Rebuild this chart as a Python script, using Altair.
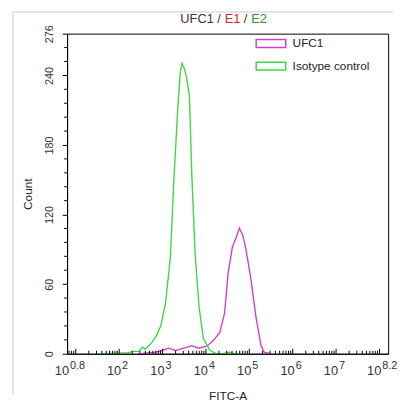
import altair as alt
import pandas as pd

# ---- data (x as log10 of FITC-A) ----
iso_lx = [1.60, 2.00, 2.20, 2.35, 2.45, 2.54, 2.60, 2.73, 2.85, 2.96, 3.07, 3.18,
          3.26, 3.35, 3.41, 3.45, 3.50, 3.55, 3.62, 3.675, 3.75, 3.84, 3.94, 4.09,
          4.24, 4.40, 4.50, 4.56, 4.62, 4.70]
iso_count = [0, 0.5, 1, 2, 2, 5.7, 4, 8.5, 15, 24, 44, 83,
             149, 211, 243, 250.5, 246, 239, 222, 154, 87, 41, 13, 3,
             0, 0, 1.2, 1.3, 0, 0]
ufc_lx = [2.50, 2.70, 2.84, 3.00, 3.145, 3.30, 3.49, 3.675, 3.83, 4.02, 4.17, 4.32,
          4.43, 4.51, 4.61, 4.70, 4.77, 4.85, 4.92, 5.04, 5.15, 5.27, 5.34, 5.49]
ufc_count = [0, 1, 1.4, 3, 4.8, 2.8, 4.8, 7, 4.8, 6.5, 11.3, 18.4,
             35, 69, 92, 100.5, 108.4, 102, 90.6, 63.7, 32.5, 7, 1.4, 0]

series_names = ["UFC1", "Isotype control"]
series_colors = ["#d040d0", "#40d840"]

y_ticks = [0, 60, 120, 180, 240, 276]
y_minor = [12, 24, 36, 48, 72, 84, 96, 108, 132, 144, 156, 168, 192, 204, 216, 228, 252, 264]
x_label_exp = ["0.8", "2", "3", "4", "5", "6", "7", "8.2"]
x_major_exp = [1, 2, 3, 4, 5, 6, 7, 8]
x_minor_mult = [2, 3, 4, 5, 6, 7, 8, 9]

FONT = "Liberation Sans"
XMIN, XMAX = 10 ** 0.8, 10 ** 8.2
H = 325

rows = []
for name, lxs, cnts in [("UFC1", ufc_lx, ufc_count), ("Isotype control", iso_lx, iso_count)]:
    for i, (a, c) in enumerate(zip(lxs, cnts)):
        rows.append({"series": name, "fitc": 10 ** a, "count": c, "i": i})
curves = pd.DataFrame(rows)

major = pd.DataFrame({"fitc": [10.0 ** e for e in x_major_exp]})
minor_vals = [m * 10.0 ** k for k in range(0, 9) for m in x_minor_mult]
minor = pd.DataFrame({"fitc": [v for v in minor_vals if XMIN <= v <= XMAX]})
ymin_df = pd.DataFrame({"count": y_minor})
labels = pd.DataFrame({"fitc": [10 ** float(e) for e in x_label_exp], "exp": x_label_exp,
                       "grp": ["first"] + ["mid"] * 6 + ["last"]})
one = pd.DataFrame({"a": [0]})

xscale = alt.Scale(type="log", domain=[XMIN, XMAX], nice=False)
yscale = alt.Scale(domain=[0, 276], nice=False)

lines = alt.Chart(curves).mark_line(strokeWidth=1.4, clip=True).encode(
    x=alt.X("fitc:Q", scale=xscale,
            axis=alt.Axis(ticks=False, labels=False, grid=False, domainColor="black",
                          title="FITC-A", titleFont=FONT, titleFontSize=12,
                          titleFontWeight="normal", titleColor="#222", titlePadding=37,
                          zindex=1)),
    y=alt.Y("count:Q", scale=yscale,
            axis=alt.Axis(values=y_ticks, tickSize=5, tickColor="black", domainColor="black",
                          grid=False, labelAngle=270, labelAlign="center",
                          labelBaseline="bottom", labelPadding=8, labelFont=FONT,
                          labelFontSize=11, labelColor="#333", title="Count",
                          titleFont=FONT, titleFontSize=12, titleFontWeight="normal",
                          titleColor="#222", titlePadding=9, zindex=1)),
    color=alt.Color("series:N", scale=alt.Scale(domain=series_names, range=series_colors),
                    legend=alt.Legend(orient="none", legendX=201, legendY=4, title=None,
                                      symbolType="M-3.75,-1L3.75,-1L3.75,1L-3.75,1Z",
                                      symbolSize=64, symbolStrokeWidth=1.5,
                                      symbolFillColor="transparent",
                                      labelFont=FONT, labelFontSize=12, labelColor="#222",
                                      labelOffset=16, rowPadding=9, padding=0)),
    detail="series:N",
    order="i:Q",
)

major_ticks = alt.Chart(major).mark_rule(color="black", strokeWidth=1).encode(
    x="fitc:Q", y=alt.value(H), y2=alt.value(H - 5))
minor_ticks = alt.Chart(minor).mark_rule(color="black", strokeWidth=1).encode(
    x="fitc:Q", y=alt.value(H), y2=alt.value(H - 3))
y_minor_ticks = alt.Chart(ymin_df).mark_rule(color="black", strokeWidth=1).encode(
    y="count:Q", x=alt.value(-3), x2=alt.value(0))

def lab_layers(grp, dx):
    base = alt.Chart(labels).transform_filter(alt.datum.grp == grp)
    ten = base.mark_text(text="10", align="right", baseline="middle", font=FONT,
                         fontSize=13, color="#333", dx=dx).encode(x="fitc:Q", y=alt.value(H + 18))
    ex = base.mark_text(align="left", baseline="middle", font=FONT, fontSize=11,
                        color="#333", dx=dx + 1).encode(x="fitc:Q", y=alt.value(H + 13), text="exp:N")
    return [ten, ex]

label_layers = lab_layers("first", 2) + lab_layers("mid", 2) + lab_layers("last", -7)

def title_part(txt, x, color):
    return alt.Chart(one).mark_text(text=txt, align="left", baseline="middle", font=FONT,
                                    fontSize=13, color=color).encode(
        x=alt.value(x), y=alt.value(-15))

title_layers = [title_part("UFC1 /", 115, "#4a2a4a"), title_part("E1", 160, "#d42a2a"),
                title_part("/", 179.5, "#4a2a4a"), title_part("E2", 187, "#2e962e")]

border_left = alt.Chart(one).mark_rule(color="#dddddd", strokeWidth=1.5).encode(
    x=alt.value(-55), y=alt.value(-22), y2=alt.value(366))
border_top = alt.Chart(one).mark_rule(color="#dddddd", strokeWidth=1.5).encode(
    y=alt.value(-22), x=alt.value(-55), x2=alt.value(331))

chart = alt.layer(
    border_left, border_top, lines, major_ticks, minor_ticks, y_minor_ticks,
    *label_layers, *title_layers
).properties(
    width=326, height=H,
    padding={"left": 4, "top": 0, "right": 0, "bottom": 0},
    background="white",
).configure_view(stroke="black", strokeWidth=1)

chart.save("out.html", embed_options={"renderer": "svg", "actions": False})
